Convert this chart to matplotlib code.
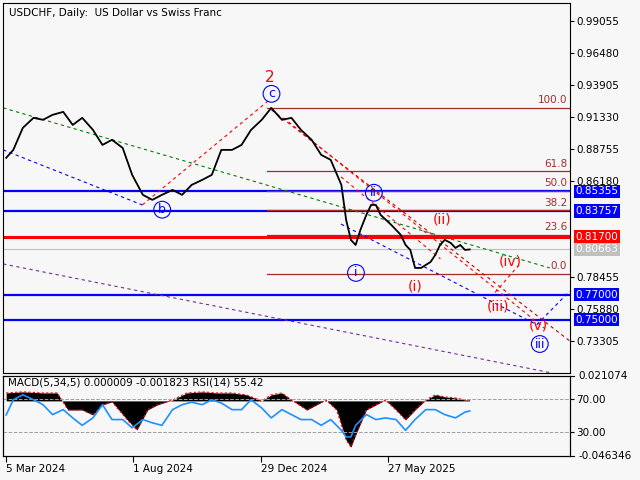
import matplotlib.pyplot as plt
import numpy as np

# price closes (bar index, close)
bars = [0, 6, 14, 23, 31, 39, 48, 56, 64, 73, 81, 89, 98, 106, 115, 123, 131, 140, 148, 156,
        165, 173, 181, 190, 198, 206, 215, 223, 232, 240, 248, 257, 265, 273, 282, 286, 290, 294,
        298, 303, 307, 311, 315, 324, 332, 336, 340, 344, 349, 353, 357, 361, 365, 369, 374, 378,
        382, 386, 390]
closes = [0.8803, 0.8867, 0.9044, 0.9125, 0.9109, 0.9149, 0.9173, 0.9068, 0.9125, 0.9028,
          0.8907, 0.8948, 0.8883, 0.8666, 0.8505, 0.8465, 0.8505, 0.8545, 0.8505, 0.8585,
          0.8626, 0.8666, 0.8867, 0.8867, 0.8907, 0.9028, 0.9109, 0.9205, 0.9109, 0.9125,
          0.9028, 0.8948, 0.8827, 0.8787, 0.8585, 0.8304, 0.8143, 0.8102, 0.8223, 0.8344,
          0.8424, 0.8424, 0.8344, 0.8263, 0.8183, 0.8102, 0.8062, 0.7917, 0.7917, 0.7941,
          0.7965, 0.8022, 0.8102, 0.8143, 0.8118, 0.8078, 0.8102, 0.8062, 0.8066]

macd_bars = [0, 14, 31, 43, 52, 64, 73, 81, 89, 102, 110, 119, 127, 140, 152, 165, 177, 190,
             202, 215, 223, 232, 240, 253, 261, 269, 278, 286, 290, 294, 303, 311, 319, 328,
             336, 344, 353, 361, 369, 378, 386, 390]
macd = [0.0067, 0.0076, 0.0067, 0.0067, -0.0076, -0.0076, -0.0118, -0.0034, -0.0008, -0.0160,
        -0.0244, -0.0076, -0.0034, 0.0008, 0.0067, 0.0076, 0.0067, 0.0067, 0.0051, 0.0000,
        0.0051, 0.0067, 0.0008, -0.0076, -0.0034, 0.0008, -0.0076, -0.0329, -0.0388, -0.0287,
        -0.0076, -0.0034, 0.0008, -0.0076, -0.0160, -0.0076, 0.0008, 0.0051, 0.0034, 0.0025,
        0.0008, 0.0008]

rsi_bars = [0, 6, 14, 23, 31, 39, 48, 56, 64, 73, 81, 89, 98, 106, 115, 123, 131, 140, 148,
            156, 165, 173, 181, 190, 198, 206, 215, 223, 232, 240, 248, 257, 265, 273, 282, 286,
            290, 294, 303, 311, 319, 328, 336, 344, 353, 361, 369, 378, 386, 390]
rsi = [50.6, 69, 75, 69, 63, 51, 57, 47, 38, 47, 63, 45, 45, 35, 45, 41, 38, 57, 63, 66, 63,
       69, 65, 57, 57, 69, 59, 47, 57, 51, 45, 45, 38, 45, 32, 24, 24, 38, 51, 45, 47, 45, 32,
       45, 57, 57, 51, 47, 54, 55.4]

date_labels = ['5 Mar 2024', '1 Aug 2024', '29 Dec 2024', '27 May 2025']
date_bars = [0, 107, 214, 321]
price_ticks = [0.99055, 0.96480, 0.93905, 0.91330, 0.88755, 0.86180, 0.78455, 0.75880, 0.73305]
fib_levels = [100.0, 61.8, 50.0, 38.2, 23.6, 0.0]
fib_high, fib_low = 0.9205, 0.7869
blue_levels = [0.85355, 0.83757, 0.77000, 0.75000]
red_level = 0.81700
last_price = 0.80663
macd_top, macd_bottom = 0.021074, -0.046346

bg = '#f7f7f7'
plt.rcParams['font.family'] = 'DejaVu Sans'
fig = plt.figure(figsize=(6.4, 4.8), dpi=100, facecolor=bg)
ax = fig.add_axes([0.005, 0.223, 0.885, 0.771], facecolor=bg)
ax2 = fig.add_axes([0.005, 0.05, 0.885, 0.167], facecolor=bg)

def px(p):  # screen x pixel -> bar index
    return (p - 3) * 0.836

X0, X1 = -2.5, 474
ax.set_xlim(X0, X1)
ax.set_ylim(0.7072, 1.0050)

# levels
for lv in blue_levels:
    ax.axhline(lv, color='#0000ff', lw=1.6)
ax.axhline(red_level, color='#ff0000', lw=2.2)
ax.axhline(last_price, color='#c0c0c0', lw=0.8)
for f in fib_levels:
    v = fib_low + (fib_high - fib_low) * f / 100
    ax.plot([px(265), X1], [v, v], color='#a52a2a', lw=0.9)
    ax.text(X1 - 2, v + 0.002, f'{f:.1f}', color='#a52a2a', fontsize=7.5, ha='right', va='bottom')

# trend lines
def seg(p1, p2, c, ls=(0, (3, 3))):
    ax.plot([px(p1[0]), px(p2[0])], [p1[1], p2[1]], color=c, lw=0.8, ls=ls)

seg((0, 0.8867), (140, 0.8424), '#0000ff')
seg((140, 0.8424), (268, 0.9270), '#ff0000')
seg((0, 0.9205), (550, 0.7917), 'green')
seg((0, 0.7949), (552, 0.7072), '#7030a0')
seg((270, 0.9189), (570, 0.7330), '#c00000')
seg((282, 0.9125), (545, 0.7430), '#ff0000')
seg((340, 0.8650), (440, 0.7990), '#ff0000')
seg((340, 0.8270), (537, 0.7460), '#0000ff')
seg((537, 0.7460), (570, 0.7730), '#0000ff')
seg((495, 0.7720), (520, 0.7950), '#ff0000')

ax.plot(bars, closes, color='black', lw=1.3)

# wave labels
ax.text(px(268), 0.9447, '2', color='#d01010', fontsize=11, ha='center', va='center')
for t, x, y in [('c', 270, 0.9318), ('b', 160, 0.8386), ('ii', 373, 0.8522),
                ('i', 355, 0.7877), ('iii', 540, 0.7305)]:
    ax.text(px(x), y, t, color='#0000ff', fontsize=9, ha='center', va='center',
            bbox=dict(boxstyle='circle,pad=0.15', fc='none', ec='#0000ff', lw=0.8))
for t, x, y in [('(ii)', 442, 0.8304), ('(i)', 415, 0.7764), ('(iii)', 498, 0.7603),
                ('(iv)', 510, 0.7965), ('(v)', 538, 0.7450)]:
    ax.text(px(x), y, t, color='#ff0000', fontsize=10, ha='center', va='center')

ax.text(px(6), 0.9970, 'USDCHF, Daily:  US Dollar vs Swiss Franc', fontsize=7.5, va='center')

# right axis
ax.yaxis.tick_right()
ax.set_yticks(price_ticks)
ax.set_yticklabels([f'{t:.5f}' for t in price_ticks], fontsize=7.5)
ax.set_xticks([])
ax.tick_params(axis='y', length=3, pad=2)
for lv, fc in [(blue_levels[0], '#0000ff'), (blue_levels[1], '#0000ff'), (red_level, '#ff0000'),
               (last_price, '#c0c0c0'), (blue_levels[2], '#0000ff'), (blue_levels[3], '#0000ff')]:
    ax.text(1.01, lv, f'{lv:.5f}', transform=ax.get_yaxis_transform(), color='white', fontsize=7.5,
            va='center', ha='left', bbox=dict(boxstyle='square,pad=0.15', fc=fc, ec='none'))

# MACD / RSI panel
ax2.set_xlim(X0, X1)
ax2.set_ylim(macd_bottom, macd_top)
ax2.fill_between(macd_bars, 0, macd, color='black', lw=0)
ax2.plot(macd_bars, macd, color='#ff0000', lw=0.8, ls=(0, (2, 2)))
ax2.set_yticks([])
ax2.set_xticks(date_bars)
ax2.set_xticklabels(date_labels, fontsize=7.5, ha='left')
ax2.tick_params(axis='x', length=4, pad=2)
tr = ax2.get_yaxis_transform()
for v in [macd_top, macd_bottom]:
    ax2.plot([1.0, 1.008], [v, v], transform=tr, color='black', lw=0.8, clip_on=False)
    ax2.text(1.015, v, f'{v:.6f}', transform=tr, fontsize=7.5, va='center', ha='left')

ax3 = ax2.twinx()
ax3.set_ylim(0.9, 97.9)
ax3.axhline(70, color='#a0a0a0', lw=0.7, ls='--')
ax3.axhline(30, color='#a0a0a0', lw=0.7, ls='--')
ax3.plot(rsi_bars, rsi, color='#1e90ff', lw=1.2)
ax3.set_yticks([70, 30])
ax3.set_yticklabels(['70.00', '30.00'], fontsize=7.5)
ax3.tick_params(axis='y', length=3, pad=2)
ax2.text(px(5), 0.0155, 'MACD(5,34,5) 0.000009 -0.001823 RSI(14) 55.42', fontsize=7.5, va='center')

fig.savefig('out.png', dpi=100, facecolor=bg)
